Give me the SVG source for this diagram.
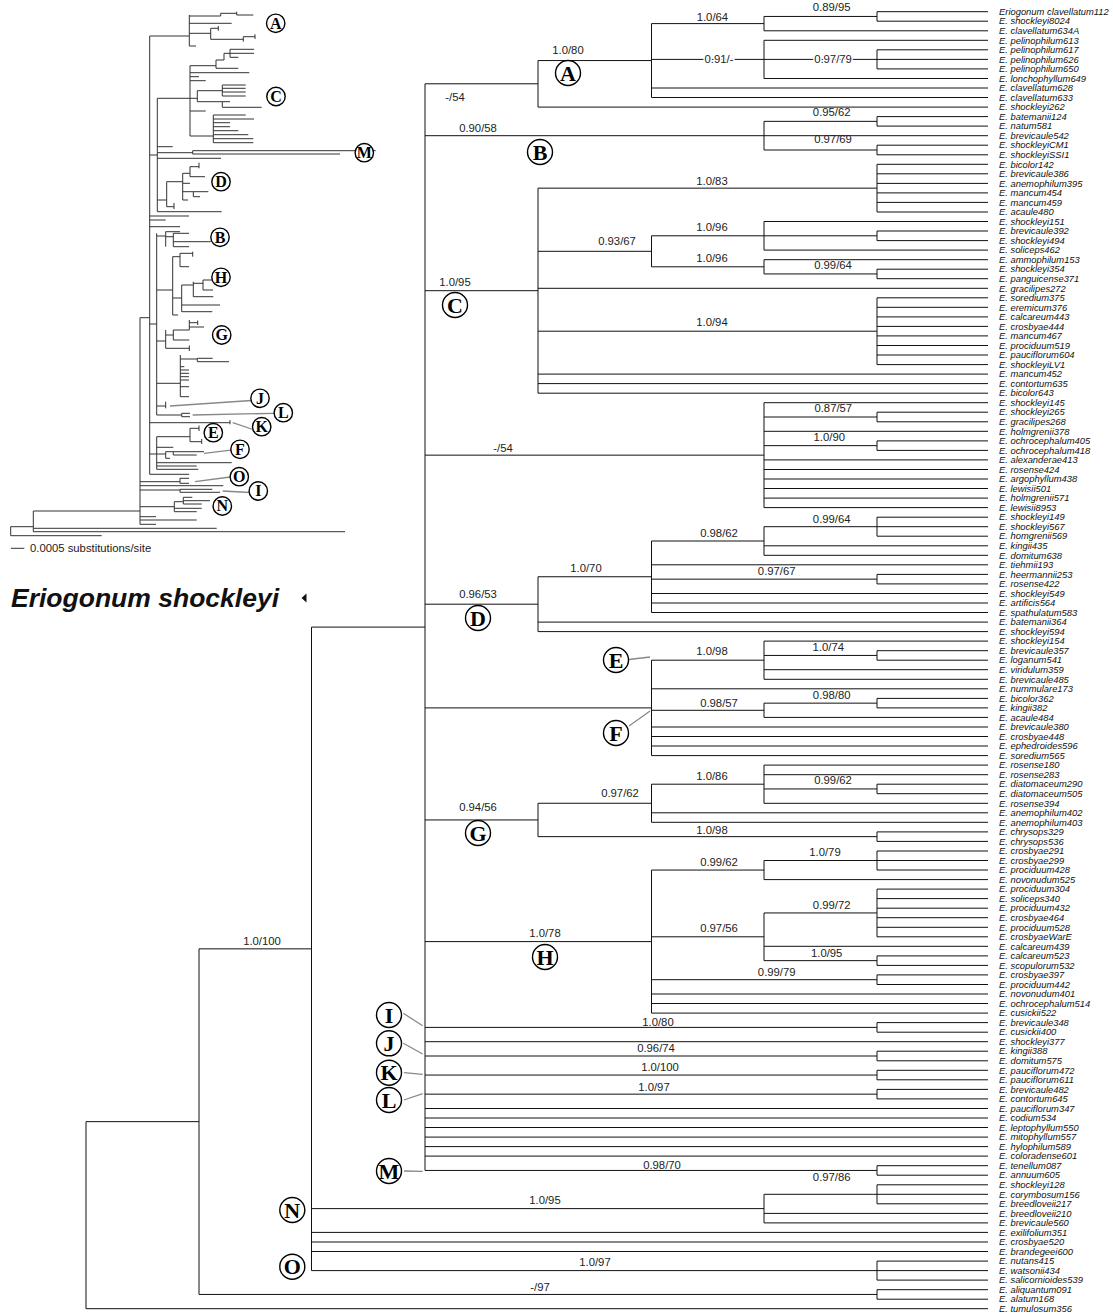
<svg xmlns="http://www.w3.org/2000/svg" width="1113" height="1316" viewBox="0 0 1113 1316">
<style>
.br{fill:none;stroke:#111;stroke-width:1}
.in{fill:none;stroke:#333;stroke-width:1}
.gl{fill:none;stroke:#888;stroke-width:1.3}
.tip{font-family:"Liberation Sans",Arial,sans-serif;font-size:9.4px;font-style:italic;fill:#111}
.sup{font-family:"Liberation Sans",Arial,sans-serif;font-size:11.3px;fill:#222;text-anchor:middle}
.halo{paint-order:stroke;stroke:#fff;stroke-width:3px}
.cl circle{fill:#fff;stroke:#000;stroke-width:1.4}
.cl text{font-family:"Liberation Serif","Times New Roman",serif;font-weight:bold;text-anchor:middle;fill:#000}
.big text{font-size:22px}
.sm text{font-size:16px}
</style>
<rect width="1113" height="1316" fill="#fff"/>

<!-- overview phylogram (branch lengths) -->
<g id="overview">
<path class="in" d="M149.7 36V474.3M149.7 36H189.3M189.3 15V46M189.3 16H220.7M220.7 13.3V16M220.7 13.3H236.7M236.7 11.7V15M236.7 15H253.3M189.3 23.3H231.7M189.3 33.3H210.7M210.7 28.3V39.3M210.7 28.3H218.3M218.3 26V30.7M210.7 39.3H243.3M243.3 36.7V41.7M243.3 36.7H255M255 34.3V39M189.3 46H196
M157.3 98.3V211.7M149.7 155H157.3M157.3 98.3H190M190 65.7V136M190 65.7H216M216 60V68.3M216 60H224M224 53.3V60M224 53.3H230M230 49.3V57.3M230 49.3H254M230 53.3H254M230 57.3H238.3M216 68.3H238.3M190 72.7H249.3M190 76.7H199M190 80.7H205.7M190 98.3H197.3M197.3 90.7V101.7M197.3 90.7H222.3M222.3 85V96M222.3 85H245.7M222.3 88.3H245.7M222.3 92H245.7M222.3 96H245.7M197.3 101.7H222.3M222.3 101.7V107.3M222.3 101.7H230M222.3 107.3H261.7M190 111H205.7M190 136H213.3M213.3 115V142.7M213.3 115H245.7M213.3 119H254M213.3 122.7H230M213.3 126.7H230M213.3 130.7H238.3M213.3 134.7H248.3M213.3 138.7H253.3M213.3 142.7H253.3
M157.3 146.7H172.7M157.3 152.7H192.7M192.7 150.7V154M192.7 150.7H375.7M192.7 154H340M157.3 158.3H221
M157.3 200H166.7M166.7 181.7V206.7M166.7 181.7H182.7M182.7 173.3V200M182.7 173.3H190M190 166.7V176.7M190 166.7H199M199 162.7V168.3M190 176.7H205M182.7 183.3H190M182.7 191.7H193.3M193.3 191.7V196.7M193.3 191.7H208.3M193.3 196.7H200M182.7 200H188M166.7 206.7H174M174 203V209M157.3 211.7H221.7
M149.7 216H189M149.7 220H165.7M149.7 226.7H180
M156.7 233.3V415M149.7 324H156.7
M156.7 236H165.7M165.7 231.7V246.7M165.7 231.7H180M165.7 236.7H173.3M173.3 233.3V246.7M173.3 233.3H189M173.3 241.7H210.7M173.3 246.7H189
M156.7 290H172.7M172.7 256.7V315M172.7 256.7H180M180 253.3V266.7M180 253.3H192.7M192.7 251.7V256.7M180 266.7H189M172.7 298H181.7M181.7 285V311.7M181.7 285H193.3M193.3 281.7V296.7M193.3 283.3H203M203 280V290M203 280H216M203 290H213M193.3 296.7H213.3M181.7 305H220M181.7 311.7H212.3M172.7 315H178
M156.7 341H165.7M165.7 330V348.3M165.7 335H173.3M173.3 330V340M173.3 330H189.3M189.3 320V330M189.3 322.7H197.7M197.7 320.5V325M189.3 327H204M173.3 340H189.3M165.7 348.3H189.3M189.3 345.5V351
M156.7 383.3H180.3M180.3 355V396.7M180.3 359H197.3M197.3 358.3V361.7M197.3 358.3H212.7M197.3 361.7H229M180.3 366.7H184.3M180.3 370H189M180.3 373.3H189M180.3 376.7H189M180.3 380H189M180.3 386.7H189M180.3 396.7H189
M156.7 406H165.7M165.7 401.7V408.3M156.7 415H181.7M181.7 413.3V416.7M181.7 413.3H190M181.7 416.7H190M149.7 422.7H230M230 420V424.3
M156.7 436.7V469.3M149.7 454H156.7M156.7 436.7H190M190 428.3V441.7M190 428.3H199M199 425.5V431M190 441.7H201.7M201.7 439V444M156.7 447.3H173.3M156.7 454H165.7M165.7 451.7V458.3M165.7 451.7H173.3M173.3 451.7V455M173.3 451.7H204M173.3 455H196.7M165.7 458.3H170M156.7 462.7H231.7M156.7 466H196.7M156.7 469.3H198.3M149.7 474.3H189.3
M140 317.7V524.3M140 317.7H149.7M140 481.7H180M180 478.3V483.3M180 478.3H189M180 483.3H189M140 485.7H223.3M140 490H180M180 489.3V492.3M180 489.3H212.3M180 492.3H220M140 506.7H174.3M174.3 501.7V511.7M174.3 501.7H183.3M183.3 497.3V504M183.3 497.3H192.3M183.3 500.7H210M183.3 504H201.7M174.3 508.3H201.7M174.3 511.7H196.7M140 516.7H156M140 520H196.7M140 524.3H156
M33.3 511V531.7M33.3 511H140M33.3 528.3H216.7M33.3 531.7H345M10.7 526.7V535.7M10.7 526.7H33.3M10.7 535.7H101.7"/>
<path class="gl" d="M170 406L251.5 400.5M192.7 415L274.5 413.3M232.7 422.7L253 429.5M204 453.3L231 450.2M195 481.7L230.3 477M222.7 491L249.5 492.5"/>
<g class="cl sm">
<g id="ov-A"><circle cx="275.7" cy="23.3" r="9.2"/><text x="275.7" y="28.7">A</text></g>
<g id="ov-C"><circle cx="276" cy="96.5" r="9.2"/><text x="276" y="101.9">C</text></g>
<g id="ov-M"><circle cx="364.3" cy="152.7" r="9.2"/><text x="364.3" y="158.1">M</text></g>
<g id="ov-D"><circle cx="221" cy="181.7" r="9.2"/><text x="221" y="187.1">D</text></g>
<g id="ov-B"><circle cx="220" cy="237.3" r="9.2"/><text x="220" y="242.7">B</text></g>
<g id="ov-H"><circle cx="221" cy="277.3" r="9.2"/><text x="221" y="282.7">H</text></g>
<g id="ov-G"><circle cx="221.7" cy="335" r="9.2"/><text x="221.7" y="340.4">G</text></g>
<g id="ov-J"><circle cx="260" cy="398.3" r="9.2"/><text x="260" y="403.7">J</text></g>
<g id="ov-L"><circle cx="283.3" cy="412.7" r="9.2"/><text x="283.3" y="418.1">L</text></g>
<g id="ov-K"><circle cx="261.7" cy="426.7" r="9.2"/><text x="261.7" y="432.1">K</text></g>
<g id="ov-E"><circle cx="213.3" cy="432.7" r="9.2"/><text x="213.3" y="438.1">E</text></g>
<g id="ov-F"><circle cx="240" cy="449.3" r="9.2"/><text x="240" y="454.7">F</text></g>
<g id="ov-O"><circle cx="239.3" cy="476.7" r="9.2"/><text x="239.3" y="482.1">O</text></g>
<g id="ov-I"><circle cx="258.3" cy="491" r="9.2"/><text x="258.3" y="496.4">I</text></g>
<g id="ov-N"><circle cx="222.3" cy="506" r="9.2"/><text x="222.3" y="511.4">N</text></g>
</g>
<g id="scalebar">
<path class="in" d="M11 548.3H24.3"/>
<text x="30" y="551.6" font-family="Liberation Sans, Arial, sans-serif" font-size="11.3" fill="#222">0.0005 substitutions/site</text>
</g>
</g>

<g id="title">
<text x="11" y="606.5" font-family="Liberation Sans, Arial, sans-serif" font-size="26.5" font-weight="bold" font-style="italic" fill="#111">Eriogonum shockleyi</text>
<path d="M301.5 598L306.5 593.5V602.5Z" fill="#111"/>
</g>

<!-- cladogram branches -->
<g id="branches" class="br">
<path id="br-A" d="M425 83.8H538M538 60.55V107.1M538 60.55H651.5M538 107.1H988M651.5 23.6V97.5M651.5 23.6H764M651.5 59.4H764M651.5 88H988M651.5 97.5H988M764 16.45V30.8M764 16.45H877M764 30.8H988M877 11.7V21.2M877 11.7H988M877 21.2H988M764 40.3V78.5M764 40.3H988M764 59.4H988M764 78.5H988M877 49.8V68.9M877 49.8H988M877 68.9H988"/>
<path id="br-B" d="M425 135.7H764M764 121.35V150M764 121.35H877M764 135.7H988M764 150H877M877 116.6V126.1M877 116.6H988M877 126.1H988M877 145.2V154.8M877 145.2H988M877 154.8H988"/>
<path id="br-C" d="M425 290.7H538M538 188.15V393.2M538 188.15H877M877 164.3V212M877 164.3H988M877 173.8H988M877 183.4H988M877 192.9H988M877 202.4H988M877 212H988M538 251.3H651.5M651.5 235.8V266.8M651.5 235.8H764M764 221.5V250.1M764 221.5H988M764 235.8H877M877 231V240.6M877 231H988M877 240.6H988M764 250.1H988M651.5 266.8H764M764 259.7V273.95M764 259.7H988M764 273.95H877M877 269.2V278.7M877 269.2H988M877 278.7H988M538 288.3H988M538 331.2H877M877 297.8V364.6M877 297.8H988M877 307.3H988M877 316.9H988M877 326.4H988M877 335.9H988M877 345.5H988M877 355H988M877 364.6H988M538 374.1H988M538 383.6H988M538 393.2H988"/>
<path id="br-S" d="M425 455.15H764M764 402.7V507.6M764 402.7H988M764 417H877M877 412.2V421.8M877 412.2H988M877 421.8H988M764 431.3H988M764 445.65H877M877 440.9V450.4M877 440.9H988M877 450.4H988M764 459.9H988M764 469.5H988M764 479H988M764 488.5H988M764 498.1H988M764 507.6H988"/>
<path id="br-D" d="M425 604.2H538M538 576.75V631.6M538 576.75H651.5M538 622.1H988M538 631.6H988M651.5 541V612.5M651.5 541H764M764 526.7V555.3M764 526.7H877M877 517.2V536.2M877 517.2H988M877 526.7H988M877 536.2H988M764 545.8H988M764 555.3H988M651.5 564.8H988M651.5 579.15H877M877 574.4V583.9M877 574.4H988M877 583.9H988M651.5 593.5H988M651.5 603H988M651.5 612.5H988"/>
<path id="br-EF" d="M425 707.9H651.5M651.5 660.2V755.6M651.5 660.2H764M764 641.1V679.3M764 641.1H988M764 655.45H877M877 650.7V660.2M877 650.7H988M877 660.2H988M764 669.7H988M764 679.3H988M651.5 688.8H988M651.5 710.3H764M764 703.15V717.4M764 703.15H877M877 698.4V707.9M877 698.4H988M877 707.9H988M764 717.4H988M651.5 727H988M651.5 736.5H988M651.5 746H988M651.5 755.6H988"/>
<path id="br-G" d="M425 819.95H538M538 803.25V836.65M538 803.25H651.5M651.5 784.2V822.3M651.5 784.2H764M764 765.1V803.3M764 765.1H988M764 774.7H988M764 788.95H877M877 784.2V793.7M877 784.2H988M877 793.7H988M764 803.3H988M651.5 812.8H988M651.5 822.3H988M538 836.65H877M877 831.9V841.4M877 831.9H988M877 841.4H988"/>
<path id="br-H" d="M425 941.6H651.5M651.5 870.05V1013.1M651.5 870.05H764M764 860.5V879.6M764 860.5H877M877 851V870M877 851H988M877 860.5H988M877 870H988M764 879.6H988M651.5 936.8H764M764 912.95V960.65M764 912.95H877M877 889.1V936.8M877 889.1H988M877 898.6H988M877 908.2H988M877 917.7H988M877 927.3H988M877 936.8H988M764 946.3H988M764 960.65H877M877 955.9V965.4M877 955.9H988M877 965.4H988M651.5 979.7H877M877 974.9V984.5M877 974.9H988M877 984.5H988M651.5 994H988M651.5 1003.5H988M651.5 1013.1H988"/>
<path id="br-IM" d="M425 1027.4H877M877 1022.6V1032.2M877 1022.6H988M877 1032.2H988M425 1041.7H988M425 1056H877M877 1051.2V1060.8M877 1051.2H988M877 1060.8H988M425 1075.05H877M877 1070.3V1079.8M877 1070.3H988M877 1079.8H988M425 1094.15H877M877 1089.4V1098.9M877 1089.4H988M877 1098.9H988M425 1108.5H988M425 1118H988M425 1127.5H988M425 1137.1H988M425 1146.6H988M425 1156.1H988M425 1170.45H877M877 1165.7V1175.2M877 1165.7H988M877 1175.2H988M425 83.8V1170.45"/>
<path id="br-root" d="M311.5 627.1H425M311.5 627.1V1270.6M311.5 1208.6H764M764 1194.3V1222.9M764 1194.3H877M877 1184.8V1203.8M877 1184.8H988M877 1194.3H988M877 1203.8H988M764 1213.4H988M764 1222.9H988M311.5 1232.4H988M311.5 1242H988M311.5 1251.5H988M311.5 1270.6H877M877 1261.1V1280.1M877 1261.1H988M877 1270.6H988M877 1280.1H988M199 948.85H311.5M199 948.85V1294.45M199 1294.45H877M877 1289.7V1299.2M877 1289.7H988M877 1299.2H988M86 1121.65H199M86 1121.65V1308.7M86 1308.7H988"/>
</g>
<path id="leaders" class="gl" d="M629 659.5L650 657M629 726L650 711M403.3 1013.3L422.7 1025.7M403.3 1043.3L422.7 1054M404 1072.7L422.7 1074.3M404 1100L422.7 1093.7M404 1171L422.7 1171.3"/>

<!-- support values (posterior probability / bootstrap) -->
<g id="support" class="sup">
<text x="831.7" y="11.3">0.89/95</text>
<text x="712.4" y="20.7">1.0/64</text>
<text class="halo" x="719" y="63.3">0.91/-</text>
<text class="halo" x="833" y="63.3">0.97/79</text>
<text x="568" y="54">1.0/80</text>
<text x="455" y="101">-/54</text>
<text x="478" y="132">0.90/58</text>
<text x="831.7" y="115.7">0.95/62</text>
<text x="833" y="143.3">0.97/69</text>
<text x="712" y="184.7">1.0/83</text>
<text x="617" y="245">0.93/67</text>
<text x="712" y="231.3">1.0/96</text>
<text x="712" y="262.3">1.0/96</text>
<text x="833" y="269">0.99/64</text>
<text x="455" y="286">1.0/95</text>
<text x="712" y="325.7">1.0/94</text>
<text x="833.3" y="412.3">0.87/57</text>
<text x="829.3" y="440.7">1.0/90</text>
<text x="503" y="452">-/54</text>
<text x="831.7" y="523">0.99/64</text>
<text x="719" y="536.7">0.98/62</text>
<text x="776.7" y="575">0.97/67</text>
<text x="586" y="572">1.0/70</text>
<text x="478" y="598">0.96/53</text>
<text x="712" y="654.7">1.0/98</text>
<text x="828.3" y="651.3">1.0/74</text>
<text x="719" y="707.3">0.98/57</text>
<text x="831.7" y="699">0.98/80</text>
<text x="712" y="780">1.0/86</text>
<text x="833" y="784">0.99/62</text>
<text x="620" y="797">0.97/62</text>
<text x="478" y="811">0.94/56</text>
<text x="712" y="833.7">1.0/98</text>
<text x="719" y="865.7">0.99/62</text>
<text x="825" y="855.7">1.0/79</text>
<text x="719" y="932.3">0.97/56</text>
<text x="831.7" y="909">0.99/72</text>
<text x="826.7" y="956.7">1.0/95</text>
<text x="776.7" y="975.7">0.99/79</text>
<text x="545" y="937">1.0/78</text>
<text x="658" y="1025.7">1.0/80</text>
<text x="656" y="1052.3">0.96/74</text>
<text x="660" y="1071.3">1.0/100</text>
<text x="654" y="1090.7">1.0/97</text>
<text x="662" y="1169">0.98/70</text>
<text x="831.7" y="1181.3">0.97/86</text>
<text x="545" y="1204">1.0/95</text>
<text x="595" y="1266">1.0/97</text>
<text x="540" y="1291">-/97</text>
<text x="262" y="945">1.0/100</text>
</g>

<!-- clade letters -->
<g class="cl big">
<g id="clade-A"><circle cx="568" cy="73" r="12.5"/><text x="568" y="80.5">A</text></g>
<g id="clade-B"><circle cx="540" cy="152" r="12.5"/><text x="540" y="159.5">B</text></g>
<g id="clade-C"><circle cx="455" cy="305" r="12.5"/><text x="455" y="312.5">C</text></g>
<g id="clade-D"><circle cx="478" cy="618" r="12.5"/><text x="478" y="625.5">D</text></g>
<g id="clade-E"><circle cx="616" cy="660" r="12.5"/><text x="616" y="667.5">E</text></g>
<g id="clade-F"><circle cx="616" cy="733" r="12.5"/><text x="616" y="740.5">F</text></g>
<g id="clade-G"><circle cx="478" cy="833" r="12.5"/><text x="478" y="840.5">G</text></g>
<g id="clade-H"><circle cx="545" cy="957" r="12.5"/><text x="545" y="964.5">H</text></g>
<g id="clade-I"><circle cx="389" cy="1015" r="12.5"/><text x="389" y="1022.5">I</text></g>
<g id="clade-J"><circle cx="389" cy="1043.3" r="12.5"/><text x="389" y="1050.8">J</text></g>
<g id="clade-K"><circle cx="389" cy="1072.7" r="12.5"/><text x="389" y="1080.2">K</text></g>
<g id="clade-L"><circle cx="389" cy="1100" r="12.5"/><text x="389" y="1107.5">L</text></g>
<g id="clade-M"><circle cx="389" cy="1171" r="12.5"/><text x="389" y="1178.5">M</text></g>
<g id="clade-N"><circle cx="292.3" cy="1210" r="12.5"/><text x="292.3" y="1217.5">N</text></g>
<g id="clade-O"><circle cx="292.3" cy="1266.7" r="12.5"/><text x="292.3" y="1274.2">O</text></g>
</g>

<!-- terminal taxa -->
<g id="taxa" class="tip" transform="translate(999 3.3)">
<text y="11.7">Eriogonum clavellatum112</text>
<text y="21.2">E. shockleyi8024</text>
<text y="30.8">E. clavellatum634A</text>
<text y="40.3">E. pelinophilum613</text>
<text y="49.8">E. pelinophilum617</text>
<text y="59.4">E. pelinophilum626</text>
<text y="68.9">E. pelinophilum650</text>
<text y="78.5">E. lonchophyllum649</text>
<text y="88">E. clavellatum628</text>
<text y="97.5">E. clavellatum633</text>
<text y="107.1">E. shockleyi262</text>
<text y="116.6">E. batemanii124</text>
<text y="126.1">E. natum581</text>
<text y="135.7">E. brevicaule542</text>
<text y="145.2">E. shockleyiCM1</text>
<text y="154.8">E. shockleyiSSI1</text>
<text y="164.3">E. bicolor142</text>
<text y="173.8">E. brevicaule386</text>
<text y="183.4">E. anemophilum395</text>
<text y="192.9">E. mancum454</text>
<text y="202.4">E. mancum459</text>
<text y="212">E. acaule480</text>
<text y="221.5">E. shockleyi151</text>
<text y="231">E. brevicaule392</text>
<text y="240.6">E. shockleyi494</text>
<text y="250.1">E. soliceps462</text>
<text y="259.7">E. ammophilum153</text>
<text y="269.2">E. shockleyi354</text>
<text y="278.7">E. panguicense371</text>
<text y="288.3">E. gracilipes272</text>
<text y="297.8">E. soredium375</text>
<text y="307.3">E. eremicum376</text>
<text y="316.9">E. calcareum443</text>
<text y="326.4">E. crosbyae444</text>
<text y="335.9">E. mancum467</text>
<text y="345.5">E. prociduum519</text>
<text y="355">E. pauciflorum604</text>
<text y="364.6">E. shockleyiLV1</text>
<text y="374.1">E. mancum452</text>
<text y="383.6">E. contortum635</text>
<text y="393.2">E. bicolor643</text>
<text y="402.7">E. shockleyi145</text>
<text y="412.2">E. shockleyi265</text>
<text y="421.8">E. gracilipes268</text>
<text y="431.3">E. holmgrenii378</text>
<text y="440.9">E. ochrocephalum405</text>
<text y="450.4">E. ochrocephalum418</text>
<text y="459.9">E. alexanderae413</text>
<text y="469.5">E. rosense424</text>
<text y="479">E. argophyllum438</text>
<text y="488.5">E. lewisii501</text>
<text y="498.1">E. holmgrenii571</text>
<text y="507.6">E. lewisii8953</text>
<text y="517.2">E. shockleyi149</text>
<text y="526.7">E. shockleyi567</text>
<text y="536.2">E. homgrenii569</text>
<text y="545.8">E. kingii435</text>
<text y="555.3">E. domitum638</text>
<text y="564.8">E. tiehmii193</text>
<text y="574.4">E. heermannii253</text>
<text y="583.9">E. rosense422</text>
<text y="593.5">E. shockleyi549</text>
<text y="603">E. artificis564</text>
<text y="612.5">E. spathulatum583</text>
<text y="622.1">E. batemanii364</text>
<text y="631.6">E. shockleyi594</text>
<text y="641.1">E. shockleyi154</text>
<text y="650.7">E. brevicaule357</text>
<text y="660.2">E. loganum541</text>
<text y="669.7">E. viridulum359</text>
<text y="679.3">E. brevicaule485</text>
<text y="688.8">E. nummulare173</text>
<text y="698.4">E. bicolor362</text>
<text y="707.9">E. kingii382</text>
<text y="717.4">E. acaule484</text>
<text y="727">E. brevicaule380</text>
<text y="736.5">E. crosbyae448</text>
<text y="746">E. ephedroides596</text>
<text y="755.6">E. soredium565</text>
<text y="765.1">E. rosense180</text>
<text y="774.7">E. rosense283</text>
<text y="784.2">E. diatomaceum290</text>
<text y="793.7">E. diatomaceum505</text>
<text y="803.3">E. rosense394</text>
<text y="812.8">E. anemophilum402</text>
<text y="822.3">E. anemophilum403</text>
<text y="831.9">E. chrysops329</text>
<text y="841.4">E. chrysops536</text>
<text y="851">E. crosbyae291</text>
<text y="860.5">E. crosbyae299</text>
<text y="870">E. prociduum428</text>
<text y="879.6">E. novonudum525</text>
<text y="889.1">E. prociduum304</text>
<text y="898.6">E. soliceps340</text>
<text y="908.2">E. prociduum432</text>
<text y="917.7">E. crosbyae464</text>
<text y="927.3">E. prociduum528</text>
<text y="936.8">E. crosbyaeWarE</text>
<text y="946.3">E. calcareum439</text>
<text y="955.9">E. calcareum523</text>
<text y="965.4">E. scopulorum532</text>
<text y="974.9">E. crosbyae397</text>
<text y="984.5">E. prociduum442</text>
<text y="994">E. novonudum401</text>
<text y="1003.5">E. ochrocephalum514</text>
<text y="1013.1">E. cusickii522</text>
<text y="1022.6">E. brevicaule348</text>
<text y="1032.2">E. cusickii400</text>
<text y="1041.7">E. shockleyi377</text>
<text y="1051.2">E. kingii388</text>
<text y="1060.8">E. domitum575</text>
<text y="1070.3">E. pauciflorum472</text>
<text y="1079.8">E. pauciflorum611</text>
<text y="1089.4">E. brevicaule482</text>
<text y="1098.9">E. contortum645</text>
<text y="1108.5">E. pauciflorum347</text>
<text y="1118">E. codium534</text>
<text y="1127.5">E. leptophyllum550</text>
<text y="1137.1">E. mitophyllum557</text>
<text y="1146.6">E. hylophilum589</text>
<text y="1156.1">E. coloradense601</text>
<text y="1165.7">E. tenellum087</text>
<text y="1175.2">E. annuum605</text>
<text y="1184.8">E. shockleyi128</text>
<text y="1194.3">E. corymbosum156</text>
<text y="1203.8">E. breedloveii217</text>
<text y="1213.4">E. breedloveii210</text>
<text y="1222.9">E. brevicaule560</text>
<text y="1232.4">E. exilifolium351</text>
<text y="1242">E. crosbyae520</text>
<text y="1251.5">E. brandegeei600</text>
<text y="1261.1">E. nutans415</text>
<text y="1270.6">E. watsonii434</text>
<text y="1280.1">E. salicornioides539</text>
<text y="1289.7">E. aliquantum091</text>
<text y="1299.2">E. alatum168</text>
<text y="1308.7">E. tumulosum356</text>
</g>
</svg>
